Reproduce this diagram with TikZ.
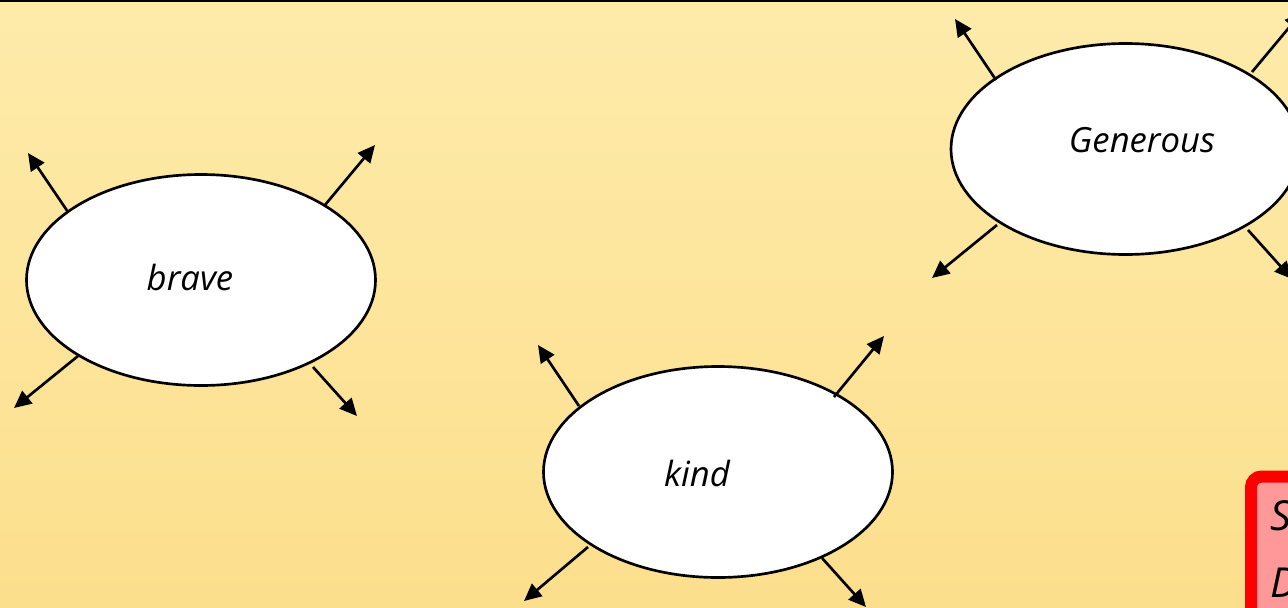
\documentclass[tikz,border=0pt]{standalone}
\usepackage{fontspec}
\setmainfont{Open Sans}
\usetikzlibrary{arrows.meta,shapes.geometric,calc}
\definecolor{bgtop}{HTML}{FEEBAA}
\definecolor{bgbot}{HTML}{FCDF8D}
\definecolor{boxfill}{HTML}{FF9999}
\tikzset{
  bubble/.style={ellipse, draw=black, fill=white, line width=2pt, inner sep=0pt,
    minimum width=349*0.75pt, minimum height=211*0.75pt},
  word/.style={inner sep=0pt, anchor=base, font=\fontsize{26}{30}\selectfont\itshape},
  boxword/.style={inner sep=0pt, anchor=base west, font=\fontsize{31}{36}\selectfont\itshape},
  arr/.style={line width=2pt, -{Triangle[length=13pt,width=12pt]}},
}
\begin{document}
\begin{tikzpicture}[x=0.75pt,y=-0.75pt]
\useasboundingbox (0,0) rectangle (1288,607);
\clip (0,0) rectangle (1288,607);
\shade[top color=bgtop, bottom color=bgbot] (0,0) rectangle (1288,607);
\draw[line width=1.5pt] (0,1) -- (1288,1);

\node[bubble] (brave) at (201,280) {};
\node[bubble] (kind) at (718,472) {};
\node[bubble] (gen) at (1125.5,149) {};

\node[word] (bravet) at (190,290) {brave};
\node[word] (kindt) at (697,486) {kind};
\node[word] (gent) at (1142,152) {Generous};

% brave
\draw[arr] ($(brave)+(-133,-68)$) -- ++(-40,-59);
\draw[arr] ($(brave)+(124,-75)$) -- ++(50,-60);
\draw[arr] ($(brave)+(-123,76)$) -- ++(-64,52);
\draw[arr] ($(brave)+(112,87)$) -- ++(44,49);
% kind
\draw[arr] ($(kind)+(-139,-66)$) -- ++(-41,-61);
\draw[arr] ($(kind)+(116,-75)$) -- ++(50,-61);
\draw[arr] ($(kind)+(-130,75)$) -- ++(-64,54);
\draw[arr] ($(kind)+(104,86)$) -- ++(44,49);
% generous
\draw[arr] ($(gen)+(-129.5,-69)$) -- ++(-41,-61);
\draw[arr] ($(gen)+(126.5,-77)$) -- ++(50,-60);
\draw[arr] ($(gen)+(-128.5,76)$) -- ++(-65,53);
\draw[arr] ($(gen)+(122.5,81)$) -- ++(44,49);

\draw[draw=red, line width=9pt, fill=boxfill, rounded corners=8pt] (1251,476.5) rectangle (1500,800);
\node[boxword] (s) at (1270,530) {S};
\node[boxword] (d) at (1270,597) {D};
\end{tikzpicture}
\end{document}
